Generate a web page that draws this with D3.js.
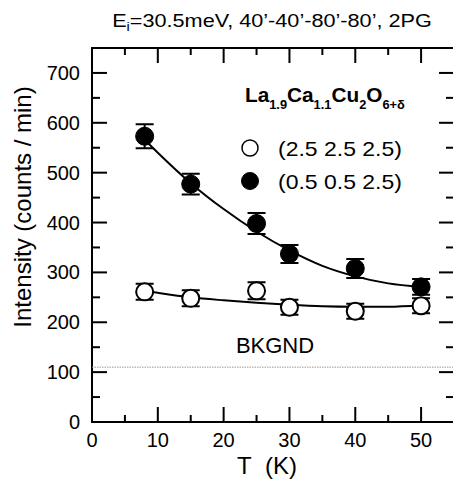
<!DOCTYPE html>
<html>
<head>
<meta charset="utf-8">
<script src="https://cdn.jsdelivr.net/npm/d3@7"></script>
<style>
  body { margin: 0; background: #fff; }
  svg { display: block; font-family: "Liberation Sans", Arial, sans-serif; }
</style>
</head>
<body>
<script>
(function (d3) {
  "use strict";

  /***** Data *****/
  var temps = [8, 15, 25, 30, 40, 50];
  var openVals = [261, 248, 263, 230, 222, 233];      // (2.5 2.5 2.5)
  var openErr = [16, 16, 17, 15, 15, 15];
  var filledVals = [573, 477, 398, 337, 308, 271];    // (0.5 0.5 2.5)
  var filledErr = [24, 21, 21, 18, 19, 16];

  var fitT = [8, 10, 15, 20, 25, 30, 35, 40, 45, 50];
  var openFit = [263, 259, 250, 244, 239, 235, 232, 231, 231, 234];
  var filledFit = [566, 540, 479, 427, 382, 344, 313, 292, 278, 271];

  var bkgnd = 110;
  var xTicks = [0, 10, 20, 30, 40, 50];
  var yTicks = [0, 100, 200, 300, 400, 500, 600, 700];

  /***** Layout *****/
  var W = 453, H = 483;
  var left = 92, right = 454, top = 48, bottom = 422;

  var x = d3.scaleLinear().domain([0, 55]).range([left, right]);
  var y = d3.scaleLinear().domain([0, 750]).range([bottom, top]);

  var svg = d3.select("body").append("svg")
      .attr("width", W)
      .attr("height", H);

  // stretch a text horizontally so it spans the given width
  function fitWidth(sel, width) {
    var w = sel.node().getComputedTextLength();
    var s = width / w;
    var tx = +sel.attr("x"), ty = +sel.attr("y");
    sel.attr("transform", "translate(" + tx + "," + ty + ") scale(" + s + ",1) translate(" + (-tx) + "," + (-ty) + ")");
  }

  // frame
  svg.append("rect")
      .attr("x", left).attr("y", top)
      .attr("width", right - left).attr("height", bottom - top)
      .attr("fill", "none").attr("stroke", "#000").attr("stroke-width", 2);

  // ticks on all four sides (inward)
  var ticks = svg.append("g").attr("stroke", "#000").attr("stroke-width", 2);
  d3.range(0, 56, 5).forEach(function (t) {
    var len = t % 10 === 0 ? 15 : 7;
    ticks.append("line").attr("x1", x(t)).attr("x2", x(t)).attr("y1", bottom).attr("y2", bottom - len);
    ticks.append("line").attr("x1", x(t)).attr("x2", x(t)).attr("y1", top).attr("y2", top + len);
  });
  d3.range(0, 751, 50).forEach(function (v) {
    var len = v % 100 === 0 ? 15 : 8;
    ticks.append("line").attr("y1", y(v)).attr("y2", y(v)).attr("x1", left).attr("x2", left + len);
    ticks.append("line").attr("y1", y(v)).attr("y2", y(v)).attr("x1", right).attr("x2", right - len);
  });

  // tick labels
  svg.append("g").selectAll("text").data(xTicks).join("text")
      .attr("x", function (d) { return x(d); })
      .attr("y", 447)
      .attr("text-anchor", "middle")
      .attr("font-size", 20)
      .text(function (d) { return d; });

  svg.append("g").selectAll("text").data(yTicks).join("text")
      .attr("x", 80)
      .attr("y", function (d) { return y(d) + 7; })
      .attr("text-anchor", "end")
      .attr("font-size", 20)
      .text(function (d) { return d; });

  // axis titles
  svg.append("text")
      .attr("transform", "translate(31,207) rotate(-90)")
      .attr("text-anchor", "middle")
      .attr("font-size", 24)
      .text("Intensity (counts / min)");

  svg.append("text")
      .attr("x", 267).attr("y", 474)
      .attr("text-anchor", "middle")
      .attr("font-size", 24)
      .text("T\u00a0\u00a0(K)");

  // top title
  var title = svg.append("text")
      .attr("x", 272).attr("y", 27)
      .attr("text-anchor", "middle")
      .attr("font-size", 18);
  title.append("tspan").text("E");
  title.append("tspan").attr("font-size", 12).attr("dy", 4).text("i");
  title.append("tspan").attr("dy", -4).text("=30.5meV, 40\u2019-40\u2019-80\u2019-80\u2019, 2PG");
  fitWidth(title, 320);

  // background line
  svg.append("line")
      .attr("x1", left).attr("x2", right)
      .attr("y1", y(bkgnd)).attr("y2", y(bkgnd))
      .attr("stroke", "#999").attr("stroke-width", 1)
      .attr("stroke-dasharray", "1.5,1");

  svg.append("text")
      .attr("x", 275).attr("y", 353)
      .attr("text-anchor", "middle")
      .attr("font-size", 22)
      .text("BKGND");

  // fit curves
  var line = d3.line()
      .x(function (d) { return x(d[0]); })
      .y(function (d) { return y(d[1]); })
      .curve(d3.curveMonotoneX);

  [openFit, filledFit].forEach(function (fit) {
    svg.append("path")
        .attr("d", line(d3.zip(fitT, fit)))
        .attr("fill", "none")
        .attr("stroke", "#000")
        .attr("stroke-width", 2);
  });

  // error bars + markers
  function drawSeries(vals, errs, filled) {
    var g = svg.append("g");
    var pts = d3.zip(temps, vals, errs);
    g.selectAll(".eb").data(pts).join("path")
        .attr("fill", "none").attr("stroke", "#000").attr("stroke-width", 2)
        .attr("d", function (d) {
          var cx = x(d[0]), y0 = y(d[1] - d[2]), y1 = y(d[1] + d[2]);
          return "M" + (cx - 9) + "," + y1 + "H" + (cx + 9) +
                 "M" + cx + "," + y1 + "V" + y0 +
                 "M" + (cx - 9) + "," + y0 + "H" + (cx + 9);
        });
    g.selectAll("circle").data(pts).join("circle")
        .attr("cx", function (d) { return x(d[0]); })
        .attr("cy", function (d) { return y(d[1]); })
        .attr("r", filled ? 9 : 8.5)
        .attr("fill", filled ? "#000" : "#fff")
        .attr("stroke", "#000")
        .attr("stroke-width", filled ? 1 : 2);
  }
  drawSeries(openVals, openErr, false);
  drawSeries(filledVals, filledErr, true);

  // legend
  var formula = svg.append("text")
      .attr("x", 245).attr("y", 102)
      .attr("font-size", 21)
      .attr("font-weight", "bold");
  [["La", 0], ["1.9", 1], ["Ca", 0], ["1.1", 1], ["Cu", 0], ["2", 1], ["O", 0], ["6+\u03b4", 1]]
    .forEach(function (p, i, arr) {
      var prevSub = i > 0 && arr[i - 1][1];
      var dy = p[1] ? (prevSub ? 0 : 7) : (prevSub ? -7 : 0);
      formula.append("tspan")
          .attr("font-size", p[1] ? 13 : 21)
          .attr("dy", dy)
          .text(p[0]);
    });
  fitWidth(formula, 160);

  var legendItems = [
    { label: "(2.5 2.5 2.5)", filled: false, y: 148 },
    { label: "(0.5 0.5 2.5)", filled: true, y: 181 }
  ];
  legendItems.forEach(function (it) {
    svg.append("circle")
        .attr("cx", 250).attr("cy", it.y)
        .attr("r", it.filled ? 8.5 : 8)
        .attr("fill", it.filled ? "#000" : "#fff")
        .attr("stroke", "#000")
        .attr("stroke-width", it.filled ? 1 : 1.5);
    var t = svg.append("text")
        .attr("x", 278).attr("y", it.y + 8)
        .attr("font-size", 21)
        .text(it.label);
    fitWidth(t, 124);
  });

})(d3);
</script>
</body>
</html>
